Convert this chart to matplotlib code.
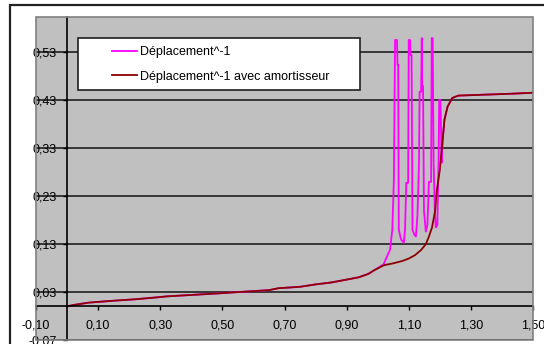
import matplotlib
matplotlib.use('Agg')
import matplotlib.pyplot as plt
from matplotlib.patches import Rectangle

plt.rcParams['font.family'] = ['Liberation Sans', 'DejaVu Sans']

# courbe avec amortisseur
x_amort = [0.00, 0.02, 0.07, 0.15, 0.22, 0.29, 0.32, 0.40, 0.48, 0.55, 0.65, 0.68,
           0.75, 0.80, 0.85, 0.90, 0.94, 0.97, 0.99, 1.02, 1.05, 1.08, 1.10, 1.12,
           1.14, 1.155, 1.165, 1.175, 1.185, 1.19, 1.20, 1.21, 1.215, 1.225, 1.24,
           1.26, 1.435, 1.50]
y_amort = [0.000, 0.003, 0.008, 0.012, 0.015, 0.019, 0.021, 0.024, 0.027, 0.030, 0.034, 0.038,
           0.041, 0.046, 0.050, 0.056, 0.061, 0.068, 0.076, 0.086, 0.090, 0.095, 0.100, 0.107,
           0.118, 0.130, 0.146, 0.165, 0.200, 0.240, 0.285, 0.354, 0.390, 0.417, 0.435,
           0.440, 0.444, 0.446]

# courbe sans amortisseur
x_depl = [0.00, 0.02, 0.07, 0.15, 0.22, 0.29, 0.32, 0.40, 0.48, 0.55, 0.65, 0.68,
          0.75, 0.80, 0.85, 0.90, 0.94, 0.97, 0.99, 1.019, 1.04, 1.047, 1.052, 1.056,
          1.062, 1.064, 1.066, 1.068, 1.075, 1.084, 1.088, 1.092, 1.098, 1.100, 1.104,
          1.106, 1.109, 1.112, 1.118, 1.123, 1.128, 1.133, 1.135, 1.140, 1.142, 1.143,
          1.146, 1.149, 1.155, 1.160, 1.165, 1.172, 1.174, 1.177, 1.180, 1.184, 1.187,
          1.192, 1.196, 1.198, 1.202, 1.206, 1.21, 1.215, 1.225, 1.24, 1.26, 1.435, 1.50]
y_depl = [0.000, 0.003, 0.008, 0.012, 0.015, 0.019, 0.021, 0.024, 0.027, 0.030, 0.034, 0.038,
          0.041, 0.046, 0.050, 0.056, 0.061, 0.068, 0.076, 0.088, 0.119, 0.160, 0.260, 0.556,
          0.556, 0.504, 0.504, 0.160, 0.140, 0.133, 0.160, 0.258, 0.258, 0.556, 0.556,
          0.525, 0.525, 0.160, 0.150, 0.146, 0.190, 0.300, 0.448, 0.448, 0.560, 0.460,
          0.460, 0.200, 0.156, 0.170, 0.260, 0.260, 0.560, 0.560, 0.300, 0.200, 0.165,
          0.170, 0.300, 0.431, 0.431, 0.300, 0.354, 0.390, 0.417, 0.435, 0.440, 0.444, 0.446]

x_ticks = [-0.10, 0.10, 0.30, 0.50, 0.70, 0.90, 1.10, 1.30, 1.50]
x_labels = ['-0,10', '0,10', '0,30', '0,50', '0,70', '0,90', '1,10', '1,30', '1,50']
y_ticks = [-0.07, 0.03, 0.13, 0.23, 0.33, 0.43, 0.53]
y_labels = ['-0,07', '0,03', '0,13', '0,23', '0,33', '0,43', '0,53']

fig = plt.figure(figsize=(5.44, 3.44), dpi=100)
fig.patch.set_facecolor('white')

# cadre du graphique
fig.patches.append(Rectangle((10 / 544, -0.1), 1.2, (344 - 5) / 344 + 0.1, transform=fig.transFigure,
                             fill=False, ec='#222222', lw=1.6))

ax = fig.add_axes([36 / 544, 4 / 344, 497 / 544, 323 / 344])
ax.set_facecolor('#c0c0c0')

ax.plot(x_depl, y_depl, color='#ff00ff', lw=1.3, label='Déplacement^-1', zorder=3)
ax.plot(x_amort, y_amort, color='#8b0000', lw=1.3, label='Déplacement^-1 avec amortisseur', zorder=4)

ax.set_xlim(-0.1, 1.5)
ax.set_ylim(-0.07, 0.604)

ax.spines['left'].set_position(('data', 0))
ax.spines['bottom'].set_position(('data', 0))
ax.spines['top'].set_visible(False)
ax.spines['right'].set_visible(False)
for s in ['left', 'bottom']:
    ax.spines[s].set_color('black')
    ax.spines[s].set_linewidth(1.2)
    ax.spines[s].set_zorder(5)
ax.add_patch(Rectangle((0, 0), 1, 1, transform=ax.transAxes, fill=False, ec='#808080', lw=1.2, zorder=6,
                       clip_on=False))

ax.set_xticks(x_ticks)
ax.set_xticklabels(x_labels)
ax.set_yticks(y_ticks)
ax.set_yticklabels(y_labels)
ax.tick_params(axis='x', direction='out', length=3, width=1, pad=6.5, labelsize=9, colors='black')
ax.tick_params(axis='y', direction='out', length=3, width=1, pad=4.3, labelsize=9, colors='black')
for lab in ax.get_yticklabels():
    lab.set_zorder(7)

ax.grid(axis='y', color='#202020', lw=1.2)
ax.set_axisbelow(True)

# legende
ax.add_patch(Rectangle((0.0845, 0.774), 0.5675, 0.161, transform=ax.transAxes, fc='white', ec='#202020',
                       lw=1.2, zorder=8))
leg = ax.legend(loc='upper left', bbox_to_anchor=(0.1529, 0.91), frameon=False, fontsize=9,
                borderpad=0, borderaxespad=0, handlelength=2.0, handletextpad=0.25, labelspacing=1.0)
leg.set_zorder(9)

fig.savefig('out.png', dpi=100)
